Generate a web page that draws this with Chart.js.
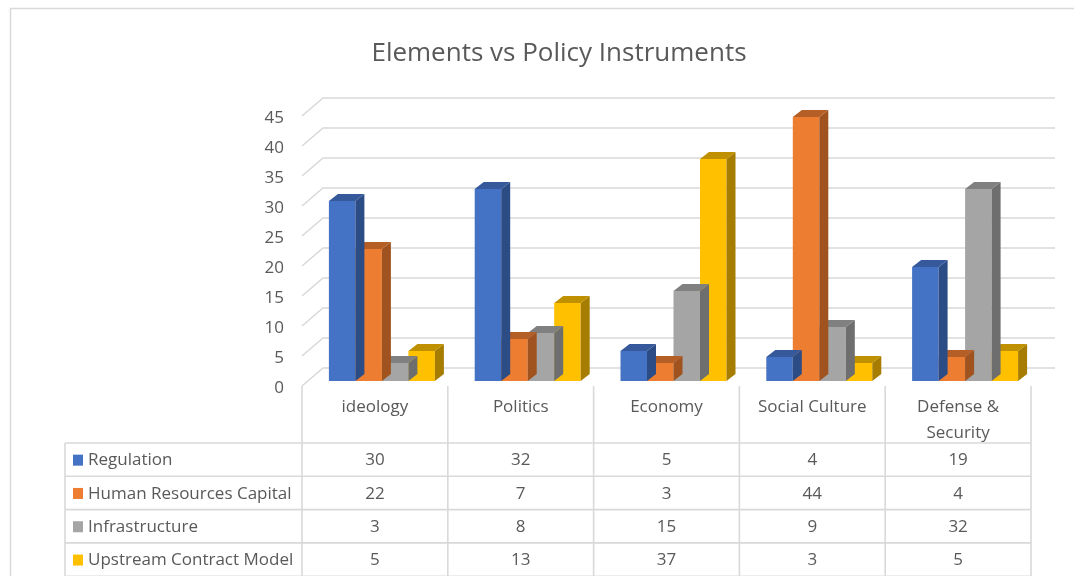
<!DOCTYPE html>
<html>
<head>
<meta charset="utf-8">
<script src="https://cdn.jsdelivr.net/npm/chart.js@4/dist/chart.umd.min.js"></script>
<style>
  html, body { margin: 0; padding: 0; background: #fff; overflow: hidden; }
</style>
</head>
<body>
<canvas id="chart" width="1074" height="576"></canvas>
<script>
// ---- data ----
const categories = ["ideology", "Politics", "Economy", "Social Culture", ["Defense &", "Security"]];
const seriesNames = ["Regulation", "Human Resources Capital", "Infrastructure", "Upstream Contract Model"];
const regulation = [30, 32, 5, 4, 19];
const humanResources = [22, 7, 3, 44, 4];
const infrastructure = [3, 8, 15, 9, 32];
const upstream = [5, 13, 37, 3, 5];

const frontColors = ["#4472C4", "#ED7D31", "#A5A5A5", "#FFC000"];
const sideColors = ["#2C4C85", "#A0521F", "#6E6E6E", "#A67D00"];
const topColors = ["#36599C", "#B55E25", "#808080", "#BF9000"];

const textColor = "#595959";
const lineColor = "#D9D9D9";
const font = "'Open Sans', sans-serif";

// 3D offsets relative to the bar plane
const front = { dx: -7, dy: 5 };   // floor front edge / table
const back = { dx: 14, dy: -13 };  // back wall
const barDepth = { dx: 9, dy: 7 };

const allSeries = [regulation, humanResources, infrastructure, upstream];

// ------------------- Plugin: walls, 3D faces, table -------------------
const threeD = {
  id: "threeD",
  beforeDatasetsDraw(chart) {
    const { ctx, chartArea: a, scales: { y } } = chart;
    ctx.save();
    ctx.strokeStyle = lineColor;
    ctx.lineWidth = 1.6;
    y.ticks.forEach(t => {
      const py = y.getPixelForValue(t.value);
      ctx.beginPath();
      ctx.moveTo(a.left + front.dx, py + front.dy);
      ctx.lineTo(a.left + back.dx, py + back.dy);
      ctx.lineTo(a.right + back.dx + 3, py + back.dy);
      ctx.stroke();
    });
    ctx.restore();
  },
  afterDatasetDraw(chart, args) {
    const { ctx } = chart;
    const i = args.index;
    ctx.save();
    args.meta.data.forEach(bar => {
      const l = bar.x - bar.width / 2, r = bar.x + bar.width / 2;
      const top = bar.y, base = bar.base;
      // side
      ctx.fillStyle = sideColors[i];
      ctx.beginPath();
      ctx.moveTo(r, top);
      ctx.lineTo(r + barDepth.dx, top - barDepth.dy);
      ctx.lineTo(r + barDepth.dx, base - barDepth.dy);
      ctx.lineTo(r, base);
      ctx.closePath();
      ctx.fill();
      // top
      ctx.fillStyle = topColors[i];
      ctx.beginPath();
      ctx.moveTo(l, top);
      ctx.lineTo(l + barDepth.dx, top - barDepth.dy);
      ctx.lineTo(r + barDepth.dx, top - barDepth.dy);
      ctx.lineTo(r, top);
      ctx.closePath();
      ctx.fill();
    });
    ctx.restore();
  },
  afterDraw(chart) {
    const { ctx, scales: { x } } = chart;
    ctx.save();

    // chart box border
    ctx.strokeStyle = lineColor;
    ctx.lineWidth = 1.5;
    ctx.beginPath();
    ctx.moveTo(10.5, 576);
    ctx.lineTo(10.5, 8.5);
    ctx.lineTo(1074, 8.5);
    ctx.stroke();

    // title
    ctx.fillStyle = textColor;
    ctx.font = "26px " + font;
    ctx.textAlign = "center";
    ctx.textBaseline = "middle";
    ctx.fillText("Elements vs Policy Instruments", 559, 54);

    // data table
    const edges = [];
    for (let k = 0; k <= categories.length; k++) edges.push(x.getPixelForValue(k - 0.5) + front.dx);
    const headTop = 386, rowTop = 443, rowH = 33.3;
    const tableLeft = 65;

    ctx.strokeStyle = lineColor;
    ctx.lineWidth = 1.6;
    edges.forEach(ex => {
      ctx.beginPath();
      ctx.moveTo(ex, headTop);
      ctx.lineTo(ex, 576);
      ctx.stroke();
    });
    ctx.beginPath();
    ctx.moveTo(tableLeft, rowTop);
    ctx.lineTo(tableLeft, 576);
    ctx.stroke();
    for (let r = 0; r <= seriesNames.length; r++) {
      const ry = rowTop + r * rowH;
      ctx.beginPath();
      ctx.moveTo(tableLeft, ry);
      ctx.lineTo(edges[edges.length - 1], ry);
      ctx.stroke();
    }

    ctx.font = "17px " + font;
    ctx.fillStyle = textColor;
    ctx.textAlign = "center";
    categories.forEach((c, k) => {
      const cx = (edges[k] + edges[k + 1]) / 2;
      const lines = Array.isArray(c) ? c : [c];
      lines.forEach((ln, j) => ctx.fillText(ln, cx, 407 + j * 26));
    });

    seriesNames.forEach((name, r) => {
      const cy = rowTop + r * rowH + rowH / 2 + 1;
      ctx.fillStyle = frontColors[r];
      ctx.fillRect(73, cy - 6, 10, 11);
      ctx.fillStyle = textColor;
      ctx.textAlign = "left";
      ctx.fillText(name, 88, cy);
      ctx.textAlign = "center";
      allSeries[r].forEach((v, k) => {
        ctx.fillText(String(v), (edges[k] + edges[k + 1]) / 2, cy);
      });
    });
    ctx.restore();
  }
};

// ------------------- Chart -------------------
const yAxisWidth = 70;
new Chart(document.getElementById("chart"), {
  type: "bar",
  data: {
    labels: categories,
    datasets: seriesNames.map((name, i) => ({
      label: name,
      data: allSeries[i],
      backgroundColor: frontColors[i],
      borderWidth: 0,
      categoryPercentage: 0.727,
      barPercentage: 1
    }))
  },
  options: {
    responsive: false,
    animation: false,
    devicePixelRatio: 1,
    layout: {
      padding: { left: 309 - yAxisWidth, right: 1074 - 1038, top: 111, bottom: 576 - 381 }
    },
    plugins: {
      legend: { display: false },
      title: { display: false },
      tooltip: { enabled: false }
    },
    scales: {
      x: { display: false },
      y: {
        min: 0,
        max: 45,
        afterFit: s => { s.width = yAxisWidth; },
        grid: { display: false, drawTicks: false },
        border: { display: false },
        ticks: {
          stepSize: 5,
          padding: 25,
          labelOffset: 7,
          color: textColor,
          font: { family: "'Open Sans', sans-serif", size: 17 }
        }
      }
    }
  },
  plugins: [threeD]
});
</script>
</body>
</html>
